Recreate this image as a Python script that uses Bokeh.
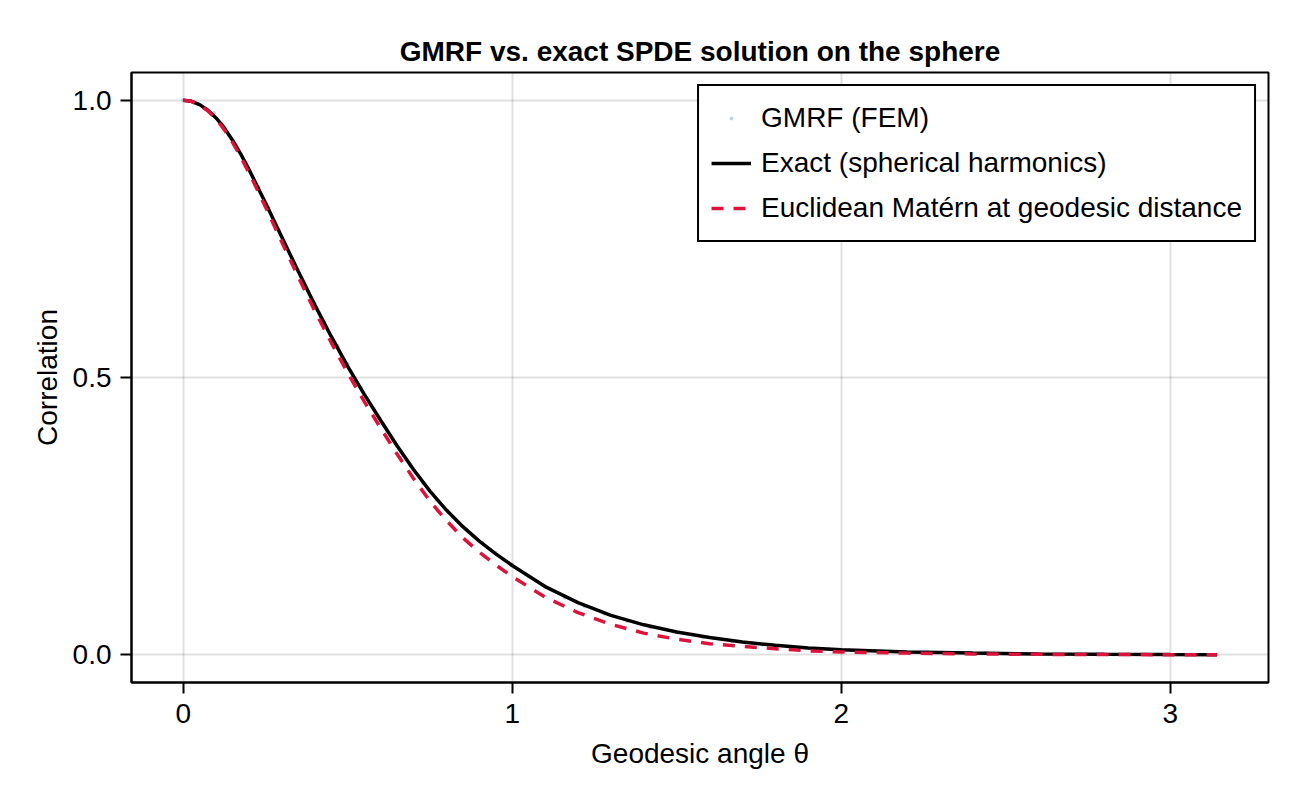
from bokeh.plotting import figure
from bokeh.models import Range1d, FixedTicker
from bokeh.embed import file_html
from bokeh.resources import INLINE

# ---- data ----
theta_grid = [0.000, 0.025, 0.050, 0.075, 0.100, 0.125, 0.150, 0.175, 0.200, 0.225,
              0.250, 0.275, 0.30, 0.35, 0.40, 0.45, 0.50, 0.55, 0.60, 0.65,
              0.70, 0.75, 0.80, 0.85, 0.90, 0.95, 1.00, 1.10, 1.20, 1.30,
              1.40, 1.50, 1.60, 1.70, 1.80, 1.90, 2.00, 2.20, 2.40, 2.60,
              2.80, 3.00, 3.1416]

exact_corr = [1.000, 0.998, 0.992, 0.982, 0.968, 0.950, 0.928, 0.903, 0.875, 0.845,
              0.815, 0.784, 0.753, 0.691, 0.631, 0.574, 0.520, 0.470, 0.423, 0.377,
              0.334, 0.295, 0.261, 0.231, 0.205, 0.182, 0.161, 0.123, 0.094, 0.071,
              0.054, 0.041, 0.031, 0.023, 0.017, 0.012, 0.009, 0.005, 0.003, 0.0015,
              0.0008, 0.0004, 0.0002]

euclid_corr = [1.000, 0.998, 0.991, 0.981, 0.966, 0.947, 0.924, 0.898, 0.869, 0.839,
               0.808, 0.776, 0.744, 0.681, 0.620, 0.563, 0.508, 0.457, 0.409, 0.362,
               0.318, 0.277, 0.242, 0.211, 0.185, 0.162, 0.141, 0.104, 0.076, 0.055,
               0.039, 0.028, 0.020, 0.015, 0.011, 0.007, 0.005, 0.003, 0.0015, 0.0008,
               0.0004, 0.0002, 0.0001]

gmrf_theta = [0.00, 0.03, 0.07, 0.094, 0.12, 0.16, 0.19, 0.23, 0.26, 0.29,
              0.33, 0.36, 0.40, 0.43, 0.47, 0.50, 0.54, 0.58, 0.61, 0.65,
              0.69, 0.73, 0.77, 0.82, 0.86, 0.91, 0.95, 1.00, 1.05, 1.10,
              1.16, 1.22, 1.28, 1.35, 1.42, 1.50, 1.58, 1.67, 1.76, 1.86,
              1.96, 2.07, 2.19, 2.31, 2.44, 2.58, 2.72, 2.87, 3.02, 3.14]
gmrf_corr = [1.000, 0.997, 0.984, 0.977, 0.956, 0.920, 0.888, 0.843, 0.806, 0.767,
             0.716, 0.680, 0.633, 0.600, 0.557, 0.524, 0.482, 0.443, 0.414, 0.376,
             0.342, 0.309, 0.279, 0.248, 0.226, 0.202, 0.184, 0.163, 0.142, 0.123,
             0.103, 0.087, 0.074, 0.061, 0.049, 0.040, 0.031, 0.024, 0.018, 0.012,
             0.010, 0.007, 0.005, 0.004, 0.003, 0.002, 0.001, 0.001, 0.0005, 0.0003]

x_ticks = [0, 1, 2, 3]
y_ticks = [0.0, 0.5, 1.0]
y_tick_labels = {0.0: "0.0", 0.5: "0.5", 1.0: "1.0"}

FONT = "Liberation Sans"

p = figure(width=1300, height=800, output_backend="svg", toolbar_location=None,
           title="GMRF vs. exact SPDE solution on the sphere",
           x_range=Range1d(-0.15708, 3.29867), y_range=Range1d(-0.05, 1.05),
           min_border_left=131, min_border_right=32, min_border_top=72,
           min_border_bottom=118)

p.background_fill_color = "white"
p.border_fill_color = "white"
p.outline_line_color = "black"
p.outline_line_width = 2
p.outline_line_alpha = 1.0

p.title.text_font = FONT
p.title.text_font_size = "28px"
p.title.text_font_style = "bold"
p.title.text_color = "black"
p.title.align = "center"
p.title.standoff = 12

for ax in (p.xaxis[0], p.yaxis[0]):
    ax.axis_line_width = 2
    ax.axis_line_color = "black"
    ax.major_tick_in = 0
    ax.major_tick_out = 11
    ax.major_tick_line_width = 2
    ax.major_tick_line_color = "black"
    ax.minor_tick_out = 0
    ax.minor_tick_in = 0
    ax.major_label_text_font = FONT
    ax.major_label_text_font_size = "28px"
    ax.major_label_text_color = "black"
    ax.axis_label_text_font = FONT
    ax.axis_label_text_font_size = "28px"
    ax.axis_label_text_font_style = "normal"
    ax.axis_label_text_color = "black"

p.xaxis.ticker = FixedTicker(ticks=x_ticks)
p.yaxis.ticker = FixedTicker(ticks=y_ticks)
p.yaxis.major_label_overrides = y_tick_labels
p.xaxis.axis_label = "Geodesic angle θ"
p.yaxis.axis_label = "Correlation"
p.xaxis.major_label_standoff = 10
p.yaxis.major_label_standoff = 9
p.xaxis.axis_label_standoff = 12
p.yaxis.axis_label_standoff = 7

p.xgrid.ticker = FixedTicker(ticks=x_ticks)
p.ygrid.ticker = FixedTicker(ticks=y_ticks)
for g in (p.xgrid[0], p.ygrid[0]):
    g.grid_line_color = "black"
    g.grid_line_alpha = 0.12
    g.grid_line_width = 2

p.scatter(gmrf_theta, gmrf_corr, marker="dot", size=16,
          line_color="#4682B4", fill_color="#4682B4", alpha=0.35,
          legend_label="GMRF (FEM)")
p.line(theta_grid, exact_corr, line_color="black", line_width=3.5,
       legend_label="Exact (spherical harmonics)")
p.line(theta_grid, euclid_corr, line_color="#DC143C", line_width=3.5,
       line_dash="12 10", legend_label="Euclidean Matérn at geodesic distance")

lg = p.legend[0]
lg.location = "top_right"
lg.margin = 12
lg.padding = 12
lg.spacing = 5
lg.glyph_width = 40
lg.glyph_height = 40
lg.label_height = 40
lg.label_standoff = 10
lg.label_text_font = FONT
lg.label_text_font_size = "28px"
lg.label_text_color = "black"
lg.border_line_color = "black"
lg.border_line_width = 2
lg.border_line_alpha = 1.0
lg.background_fill_color = "white"
lg.background_fill_alpha = 1.0

open("out.html", "w").write(file_html(p, INLINE))
